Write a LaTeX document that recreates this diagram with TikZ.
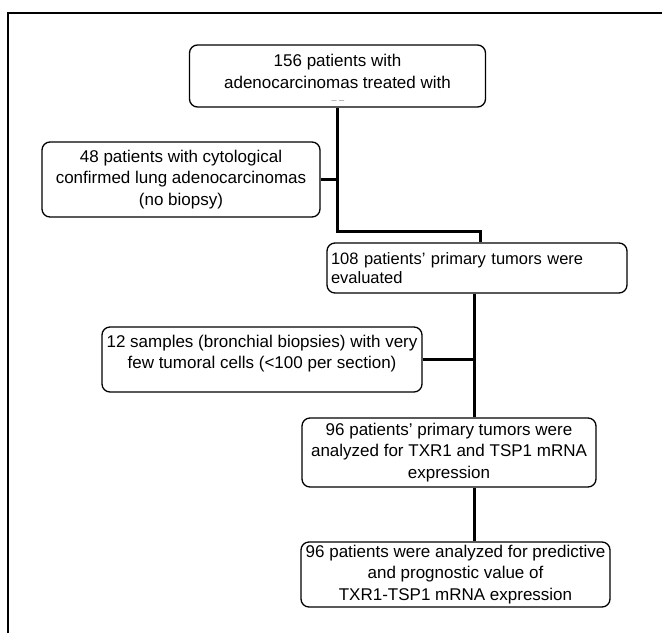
\documentclass[tikz,border=0pt]{standalone}
\usepackage{fontspec}
\setmainfont{Liberation Sans}
\usetikzlibrary{positioning}

\begin{document}
\begin{tikzpicture}[x=1pt, y=-1pt,
  box/.style={draw, line width=1.3pt, rounded corners=8pt, align=center, inner sep=2pt, font=\fontsize{17}{21.5}\selectfont},
  link/.style={line width=3pt}]
\useasboundingbox (0,0) rectangle (662,633);

% Frame
\draw[line width=1.8pt] (8,633) -- (8,13) -- (662,13);

% Boxes
\node[box, minimum width=296pt, minimum height=62pt] (total) at (337.5,76) {};
\node[align=center, inner sep=0pt, font=\fontsize{17}{22}\selectfont] (totaltext) at (337.5,71) {156 patients with\\adenocarcinomas treated with};
\node[gray, font=\fontsize{9}{9}\selectfont, inner sep=0pt, anchor=north] (cut) at (338,99) {\_\ \_};
\node[box, minimum width=278pt, minimum height=75pt] (cyto) at (181,179.5) {48 patients with cytological\\confirmed lung adenocarcinomas\\(no biopsy)};
\node[box, text width=292pt, align=left, minimum height=50pt, inner xsep=4pt, font=\fontsize{16.5}{19}\selectfont] (eval) at (477,268) {108 patients' primary tumors were\\evaluated};
\node[box, minimum width=320pt, minimum height=65pt, text depth=15pt] (few) at (262,359.5) {12 samples (bronchial biopsies) with very\\few tumoral cells (<100 per section)};
\node[box, minimum width=294pt, minimum height=69pt] (mrna) at (449,452.5) {96 patients' primary tumors were\\analyzed for TXR1 and TSP1 mRNA\\expression};
\node[box, minimum width=309pt, minimum height=65pt] (value) at (455.5,574.5) {96 patients were analyzed for predictive\\and prognostic value of\\TXR1-TSP1 mRNA expression};

% Connectors
\coordinate (j1) at (480,231);
\coordinate (spine) at (474,0);
\draw[link] (total.south) |- (j1) -- (j1 |- eval.north);
\draw[link] (cyto.east) -- (cyto.east -| total.south);
\draw[link] (eval.south -| spine) -- (mrna.north -| spine);
\draw[link] (few.east) -- (few.east -| spine);
\draw[link] (mrna.south -| spine) -- (value.north -| spine);
\end{tikzpicture}
\end{document}
